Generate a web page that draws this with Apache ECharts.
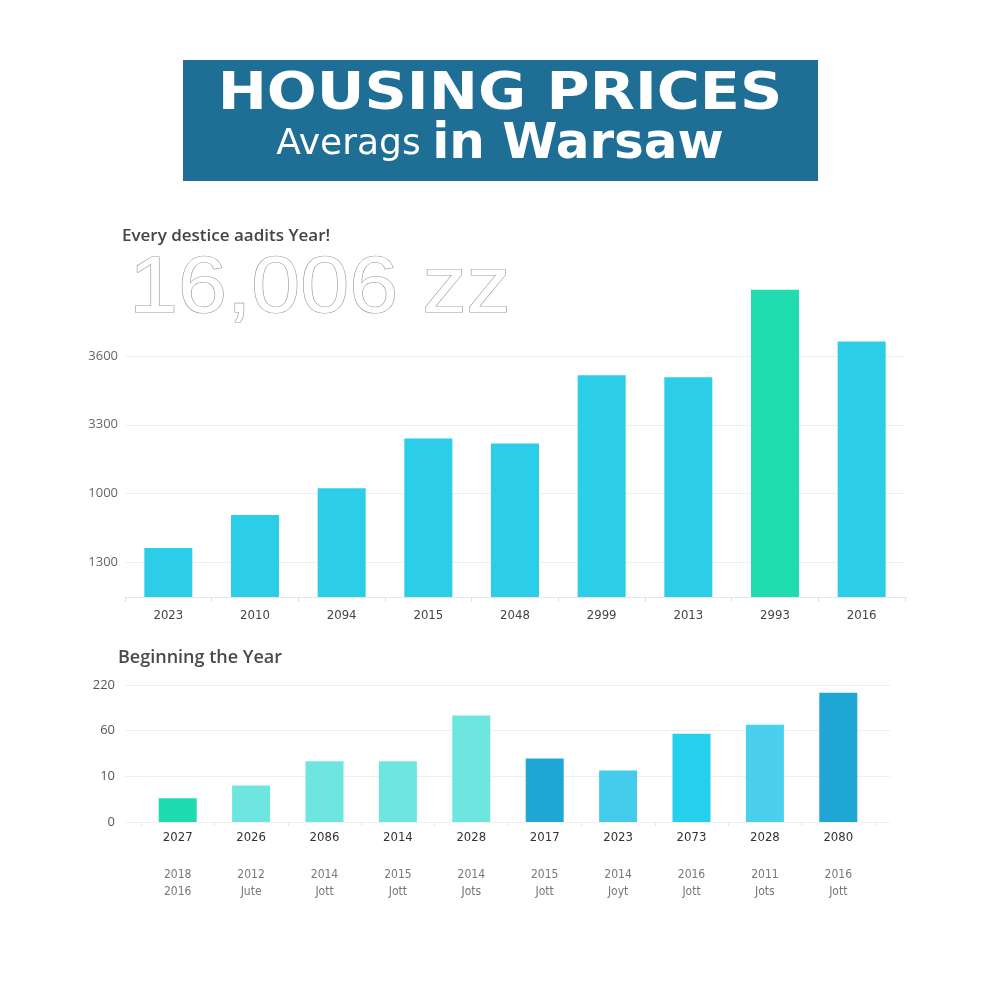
<!DOCTYPE html>
<html>
<head>
<meta charset="utf-8">
<script src="https://cdn.jsdelivr.net/npm/echarts@6/dist/echarts.min.js"></script>
<style>
html,body{margin:0;padding:0;background:#fff;}
#c{width:1000px;height:1000px;}
</style>
</head>
<body>
<div id="c"></div>
<script>
// ---- Top chart data ----
const topCategories = ['2023','2010','2094','2015','2048','2999','2013','2993','2016'];
const topValues = [710, 1190, 1580, 2300, 2230, 3220, 3190, 4460, 3710];
const topTickLabels = {500:'1300', 1500:'1000', 2500:'3300', 3500:'3600'};
const topColors = ['#2ccde9','#2ccde9','#2ccde9','#2ccde9','#2ccde9','#2ccde9','#2ccde9','#20ddb0','#2ccde9'];

// ---- Bottom chart data ----
const botCategories = ['2027','2026','2086','2014','2028','2017','2023','2073','2028','2080'];
const botSubLabels = ['2018\n2016','2012\nJute','2014\nJott','2015\nJott','2014\nJots','2015\nJott','2014\nJoyt','2016\nJott','2011\nJots','2016\nJott'];
const botValues = [52, 80, 133, 133, 233, 139, 113, 193, 213, 283];
const botTickLabels = {0:'0', 100:'10', 200:'60', 300:'220'};
const botColors = ['#1fdcb0','#6ee6e0','#6ee6e0','#6ee6e0','#6ee6e0','#1fa8d6','#45cbec','#25d0ec','#4acfec','#1fa6d4'];

const chart = echarts.init(document.getElementById('c'));
const txtFont = '"Open Sans", "DejaVu Sans", sans-serif';
const condFont = '"Liberation Sans Narrow", "DejaVu Sans Condensed", "Liberation Sans", sans-serif';

chart.setOption({
  backgroundColor: '#ffffff',
  animation: false,
  graphic: [
    { type: 'rect', shape: { x: 183, y: 60, width: 635, height: 121 }, style: { fill: '#1f6e96' } },
    { type: 'text', x: 500, y: 95, scaleX: 1.13, style: { text: 'HOUSING PRICES', fill: '#ffffff', font: 'bold 52px "DejaVu Sans", sans-serif', textAlign: 'center', textVerticalAlign: 'middle' } },
    { type: 'text', x: 500, y: 145, style: {
        text: '{a|Averags }{b|in Warsaw}', textAlign: 'center', textVerticalAlign: 'middle',
        rich: {
          a: { fill: '#ffffff', fontSize: 36, fontFamily: '"DejaVu Sans", sans-serif', fontWeight: 'normal' },
          b: { fill: '#ffffff', fontSize: 50, fontFamily: '"DejaVu Sans", sans-serif', fontWeight: 'bold' }
        } } },
    { type: 'text', x: 122, y: 236, style: { text: 'Every destice aadits Year!', fill: '#444444', font: '600 17px "Open Sans", sans-serif', textVerticalAlign: 'middle' } },
    { type: 'text', x: 129, y: 290, scaleX: 1.1, z: 10, style: { text: '16,006 zz', fill: '#ffffff', stroke: '#9a9a9a', lineWidth: 1.2, font: '80px "Liberation Sans", sans-serif', textVerticalAlign: 'middle' } },
    { type: 'text', x: 118, y: 658, style: { text: 'Beginning the Year', fill: '#4a4a4a', font: '600 18px "Open Sans", sans-serif', textVerticalAlign: 'middle' } }
  ],
  grid: [
    { left: 125, right: 95, top: 287, bottom: 403 },
    { left: 141, right: 125, top: 685, bottom: 178 },
    { left: 125, right: 110, top: 685, bottom: 178 }
  ],
  xAxis: [
    { type: 'category', gridIndex: 0, data: topCategories,
      axisLine: { lineStyle: { color: '#e6e6e6' } },
      axisTick: { show: true, lineStyle: { color: '#e0e0e0' }, length: 5 },
      axisLabel: { color: '#444', fontSize: 13, fontFamily: condFont, margin: 12 } },
    { type: 'category', gridIndex: 1, data: botCategories,
      axisLine: { show: false },
      axisTick: { show: true, lineStyle: { color: '#e6e6e6' }, length: 4 },
      axisLabel: { color: '#333', fontSize: 13, fontFamily: condFont, margin: 9 } },
    { type: 'category', gridIndex: 1, data: botSubLabels, position: 'bottom', offset: 36,
      axisLine: { show: false }, axisTick: { show: false },
      axisLabel: { color: '#777', fontSize: 12, lineHeight: 17, fontFamily: condFont, margin: 8 } },
    { type: 'value', gridIndex: 2, min: 0, max: 1, show: false }
  ],
  yAxis: [
    { type: 'value', gridIndex: 0, min: 0, max: 4500, interval: 500,
      axisLine: { show: false }, axisTick: { show: false },
      axisLabel: { color: '#666', fontSize: 13, fontFamily: txtFont, margin: 7,
        formatter: v => topTickLabels[v] || '' },
      splitLine: { show: true, lineStyle: { color: ['transparent','#efefef','transparent','#efefef','transparent','#efefef','transparent','#efefef','transparent','transparent'] } } },
    { type: 'value', gridIndex: 1, min: 0, max: 300, interval: 100, show: false },
    { type: 'value', gridIndex: 2, min: 0, max: 300, interval: 100,
      axisLine: { show: false }, axisTick: { show: false },
      axisLabel: { color: '#555', fontSize: 13, fontFamily: txtFont, margin: 10,
        formatter: v => botTickLabels[v] !== undefined ? botTickLabels[v] : '' },
      splitLine: { show: true, lineStyle: { color: '#efefef' } } }
  ],
  series: [
    { type: 'bar', xAxisIndex: 0, yAxisIndex: 0, barWidth: 48,
      data: topValues.map((v, i) => ({ value: v, itemStyle: { color: topColors[i] } })) },
    { type: 'bar', xAxisIndex: 1, yAxisIndex: 1, barWidth: 38,
      data: botValues.map((v, i) => ({ value: v, itemStyle: { color: botColors[i] } })) }
  ]
});
</script>
</body>
</html>
